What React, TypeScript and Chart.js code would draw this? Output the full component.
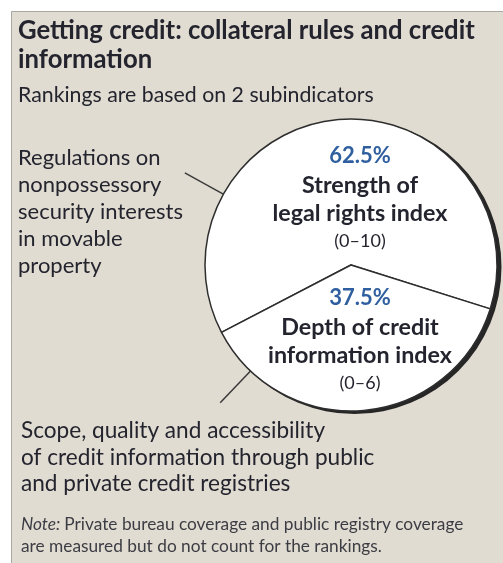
import React, { useEffect, useRef } from "react";
import { Chart, registerables } from "chart.js";

Chart.register(...registerables);

const TITLE_LINES = ["Getting credit: collateral rules and credit", "information"];
const SUBTITLE = "Rankings are based on 2 subindicators";
const CATEGORIES = ["Strength of legal rights index", "Depth of credit information index"];
const SHARES = [62.5, 37.5];
const SLICE_NAME_LINES = [
  ["Strength of", "legal rights index"],
  ["Depth of credit", "information index"],
];
const SLICE_RANGES = ["(0–10)", "(0–6)"];
const CALLOUT_TOP = ["Regulations on", "nonpossessory", "security interests", "in movable", "property"];
const CALLOUT_BOTTOM = [
  "Scope, quality and accessibility",
  "of credit information through public",
  "and private credit registries",
];
const NOTE_LABEL = "Note:";
const NOTE_LINES = [
  "Private bureau coverage and public registry coverage",
  "are measured but do not count for the rankings.",
];
// callout leader directions (degrees, canvas orientation) for each slice
const LEADER_ANGLES = [-151, 133.5];

const FONT = "Lato, 'Open Sans', sans-serif";
const TEXT = "#24242f";
const BLUE = "#2f5f9f";
const BG = "#e0dcd1";

const decorPlugin = {
  id: "decor",
  beforeDraw(chart: any) {
    const ctx = chart.ctx;
    ctx.save();
    ctx.fillStyle = "#ffffff";
    ctx.fillRect(0, 0, chart.width, chart.height);
    ctx.fillStyle = BG;
    ctx.fillRect(11, 11, chart.width - 11, chart.height - 11);
    ctx.strokeStyle = "#a9a7a2";
    ctx.lineWidth = 1;
    ctx.beginPath();
    ctx.moveTo(11.5, chart.height);
    ctx.lineTo(11.5, 11.5);
    ctx.lineTo(chart.width, 11.5);
    ctx.stroke();
    ctx.restore();
  },
  beforeDatasetsDraw(chart: any) {
    const arc = chart.getDatasetMeta(0).data[0];
    if (!arc) return;
    const { x, y, outerRadius } = arc.getProps(["x", "y", "outerRadius"], true);
    const ctx = chart.ctx;
    ctx.save();
    ctx.fillStyle = "#262626";
    ctx.beginPath();
    ctx.arc(x + 3.5, y + 2, outerRadius + 1, 0, Math.PI * 2);
    ctx.fill();
    ctx.restore();
  },
  afterDatasetsDraw(chart: any) {
    const meta = chart.getDatasetMeta(0);
    const ctx = chart.ctx;
    ctx.save();
    meta.data.forEach((arc: any, i: number) => {
      const { x, y, startAngle, endAngle, outerRadius } = arc.getProps(
        ["x", "y", "startAngle", "endAngle", "outerRadius"],
        true
      );
      // leader line
      const a = (LEADER_ANGLES[i] * Math.PI) / 180;
      ctx.strokeStyle = "#3a3a3a";
      ctx.lineWidth = 1.5;
      ctx.beginPath();
      ctx.moveTo(x + Math.cos(a) * outerRadius, y + Math.sin(a) * outerRadius);
      ctx.lineTo(x + Math.cos(a) * (outerRadius + 44), y + Math.sin(a) * (outerRadius + 44));
      ctx.stroke();

      // labels
      const mid = (startAngle + endAngle) / 2;
      const cx = x + 9;
      const cy = y + Math.sin(mid) * outerRadius * 0.49 + 3;
      ctx.textAlign = "center";
      ctx.textBaseline = "alphabetic";
      ctx.fillStyle = BLUE;
      ctx.font = `bold 22px ${FONT}`;
      ctx.fillText(`${SHARES[i]}%`, cx, cy - 34);
      ctx.fillStyle = TEXT;
      ctx.font = `bold 23.3px ${FONT}`;
      ctx.fillText(SLICE_NAME_LINES[i][0], cx, cy - 4);
      ctx.fillText(SLICE_NAME_LINES[i][1], cx, cy + 24);
      ctx.font = `18px ${FONT}`;
      ctx.fillText(SLICE_RANGES[i], cx, cy + 50);
    });
    ctx.restore();
  },
  afterDraw(chart: any) {
    const ctx = chart.ctx;
    ctx.save();
    ctx.textAlign = "left";
    ctx.textBaseline = "alphabetic";
    ctx.fillStyle = TEXT;
    ctx.font = `bold 25.7px ${FONT}`;
    ctx.fillText(TITLE_LINES[0], 18, 39);
    ctx.fillText(TITLE_LINES[1], 18, 68);
    ctx.font = `21.3px ${FONT}`;
    ctx.fillText(SUBTITLE, 18, 102);
    ctx.font = `22px ${FONT}`;
    CALLOUT_TOP.forEach((t, i) => ctx.fillText(t, 18, 165 + i * 27));
    ctx.font = `22.6px ${FONT}`;
    CALLOUT_BOTTOM.forEach((t, i) => ctx.fillText(t, 21, 438 + i * 26.5));
    ctx.fillStyle = "#3c3c44";
    ctx.font = `italic 17.3px ${FONT}`;
    ctx.fillText(NOTE_LABEL, 21, 530);
    const w = ctx.measureText(NOTE_LABEL + " ").width;
    ctx.font = `17.3px ${FONT}`;
    ctx.fillText(NOTE_LINES[0], 21 + w, 530);
    ctx.fillText(NOTE_LINES[1], 21, 552);
    ctx.restore();
  },
};

export default function App() {
  const ref = useRef<HTMLCanvasElement | null>(null);
  useEffect(() => {
    if (!ref.current) return;
    const chart = new Chart(ref.current, {
      type: "pie",
      data: {
        labels: CATEGORIES,
        datasets: [
          {
            data: SHARES,
            backgroundColor: ["#ffffff", "#ffffff"],
            borderColor: "#2e2e2e",
            borderWidth: 1.5,
          },
        ],
      },
      options: {
        responsive: false,
        animation: false,
        devicePixelRatio: 1,
        events: [],
        rotation: -117.5,
        radius: 146,
        layout: { padding: { left: 200, right: 1, top: 100, bottom: 133 } },
        plugins: {
          legend: { display: false },
          title: { display: false },
          tooltip: { enabled: false },
        },
      },
      plugins: [decorPlugin],
    });
    return () => chart.destroy();
  }, []);
  return (
    <div style={{ position: "fixed", left: 0, top: 0, width: 503, height: 563, background: "#fff" }}>
      <canvas ref={ref} width={503} height={563} style={{ display: "block", width: 503, height: 563 }} />
    </div>
  );
}
